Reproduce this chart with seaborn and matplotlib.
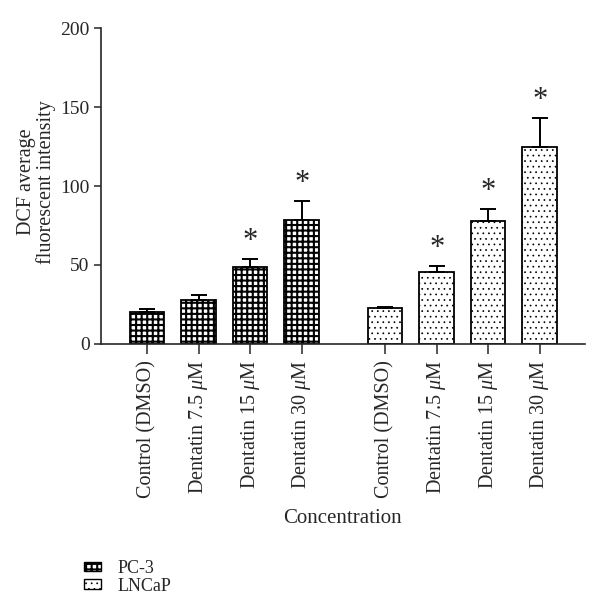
import numpy as np
import pandas as pd
import matplotlib
matplotlib.use("Agg")
import matplotlib.pyplot as plt
import seaborn as sns
from matplotlib.patches import Patch

# values
labels = ["Control (DMSO)", r"Dentatin 7.5 $\mu$M", r"Dentatin 15 $\mu$M", r"Dentatin 30 $\mu$M"]
pc3_mean = [20.2, 28.0, 48.7, 78.4]
pc3_err = [1.7, 3.0, 4.8, 12.2]
lncap_mean = [22.5, 45.5, 77.8, 124.8]
lncap_err = [1.1, 4.0, 7.6, 18.3]
pc3_star = [False, False, True, True]
lncap_star = [False, True, True, True]
groups = ["PC-3", "LNCaP"]

pos_pc3 = [0, 1, 2, 3]
pos_lncap = [4.62, 5.62, 6.62, 7.62]

df = pd.DataFrame({
    "pos": pos_pc3 + pos_lncap,
    "value": pc3_mean + lncap_mean,
    "err": pc3_err + lncap_err,
    "star": pc3_star + lncap_star,
    "group": ["PC-3"] * 4 + ["LNCaP"] * 4,
})

sns.set_style("ticks")
plt.rcParams["font.family"] = ["Liberation Serif", "DejaVu Serif"]
plt.rcParams["mathtext.fontset"] = "custom"
plt.rcParams["mathtext.rm"] = "Liberation Serif"
plt.rcParams["mathtext.it"] = "Liberation Serif:italic"
plt.rcParams["hatch.linewidth"] = 1.5
plt.rcParams["hatch.color"] = "black"

fig = plt.figure(figsize=(6, 6.14), dpi=100)
ax = fig.add_axes([0.168, 0.44, 0.807, 0.514])

hatches = {"PC-3": "+++", "LNCaP": "..."}
hatch_lw = {"PC-3": 1.5, "LNCaP": 0.5}
for g in groups:
    sub = df[df["group"] == g]
    n0 = len(ax.patches)
    sns.barplot(data=sub, x="pos", y="value", native_scale=True, width=0.67,
                color="white", edgecolor="black", linewidth=1.3,
                hatch=hatches[g], ax=ax, errorbar=None)
    for p in ax.patches[n0:]:
        try:
            p.set_hatch_linewidth(hatch_lw[g])
        except AttributeError:
            pass

ax.errorbar(df["pos"], df["value"], yerr=[np.zeros(len(df)), df["err"]],
            fmt="none", ecolor="black", elinewidth=1.4, capsize=6, capthick=1.4, zorder=3)

for _, r in df.iterrows():
    if r["star"]:
        ax.text(r["pos"], r["value"] + r["err"] + 2, "*", ha="center", va="bottom", fontsize=22)

ax.set_xlim(-0.9, 8.5)
ax.set_ylim(0, 200)
ax.set_yticks([0, 50, 100, 150, 200])
ax.set_xticks(pos_pc3 + pos_lncap)
ax.set_xticklabels(labels + labels, rotation=90, fontsize=14.5)
ax.tick_params(axis="y", labelsize=14, length=5, width=1.1, pad=3)
ax.tick_params(axis="x", length=7, width=1.1, pad=5)
for s in ["left", "bottom"]:
    ax.spines[s].set_linewidth(1.2)
sns.despine(ax=ax)

ax.set_xlabel("Concentration", fontsize=15, labelpad=8)
ax.set_ylabel("DCF average\nfluorescent intensity", fontsize=14.5, linespacing=1.05)
ax.yaxis.set_label_coords(-0.092, 0.513)

handles = [Patch(facecolor="white", edgecolor="black", hatch=hatches[g], label=g) for g in groups]
leg = fig.legend(handles=handles, loc="upper left", bbox_to_anchor=(0.128, 0.100), frameon=False,
                 fontsize=13, handlelength=0.95, handleheight=0.45, handletextpad=0.9,
                 labelspacing=0.05, borderaxespad=0)
for h, g in zip(leg.get_patches(), groups):
    try:
        h.set_hatch_linewidth(hatch_lw[g])
    except AttributeError:
        pass

fig.savefig("out.png", dpi=100)
